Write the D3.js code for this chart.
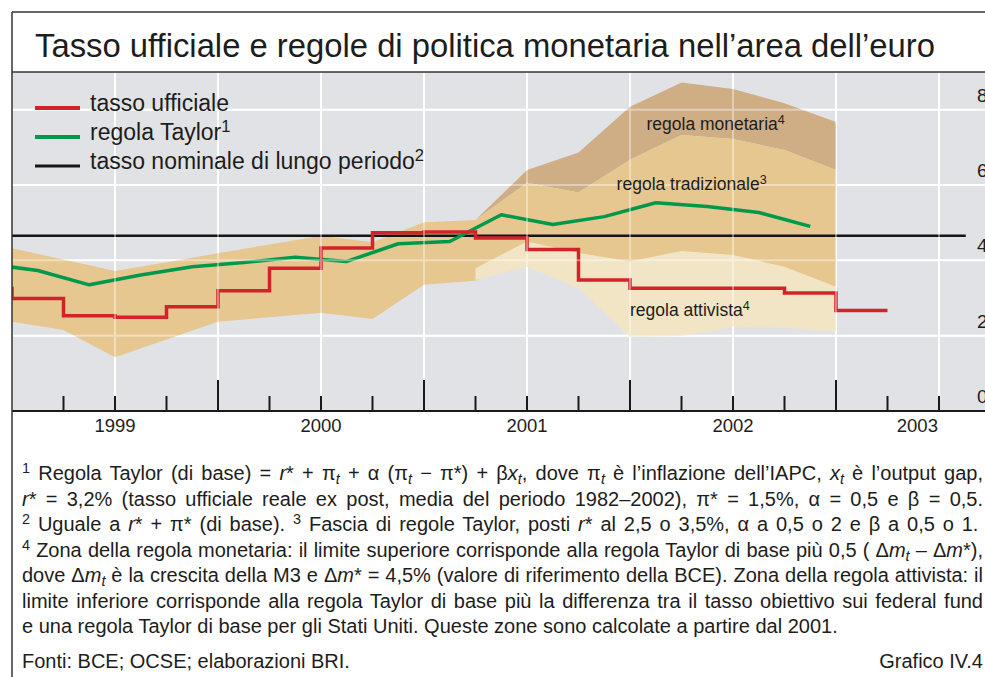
<!DOCTYPE html>
<html>
<head>
<meta charset="utf-8">
<script src="https://cdn.jsdelivr.net/npm/d3@7"></script>
<style>
body { margin: 0; background: #fff; }
svg { display: block; font-family: "Liberation Sans", Arial, sans-serif; }
</style>
</head>
<body>
<div id="chart"></div>
<script>
// quarter boundaries used by the shaded zones
const bandDates = [1999, 1999.25, 1999.5, 1999.75, 2000, 2000.25, 2000.5, 2000.75, 2001,
                   2001.25, 2001.5, 2001.75, 2002, 2002.25, 2002.5, 2002.75, 2003];
const tradUpper = [4.32, 4.02, 3.72, 3.95, 4.19, 4.42, 4.65, 4.48, 5.01,
                   5.07, 6.06, 5.80, 6.67, 7.33, 7.22, 6.93, 6.40];
const tradLower = [2.37, 2.15, 1.43, 1.90, 2.37, 2.49, 2.61, 2.44, 3.35,
                   3.46, 4.00, 3.50, 2.80, 3.00, 3.10, 2.90, 2.60];

// zones computed from 2001
const zoneDates = [2001.25, 2001.5, 2001.75, 2002, 2002.25, 2002.5, 2002.75, 2003];
const monUpper = [5.07, 6.40, 6.86, 8.08, 8.72, 8.55, 8.17, 7.67];
const actUpper = [3.79, 4.50, 4.20, 3.97, 4.25, 4.14, 3.83, 3.30];
const actLower = [3.48, 3.83, 3.26, 1.97, 1.99, 2.24, 2.21, 2.11];

// tasso ufficiale, quarterly averages (value drawn up to the quarter end)
const rateDates = [1999, 1999.25, 1999.5, 1999.75, 2000, 2000.25, 2000.5, 2000.75, 2001,
                   2001.25, 2001.5, 2001.75, 2002, 2002.25, 2002.5, 2002.75, 2003, 2003.25];
const rateValues = [3.30, 2.99, 2.53, 2.49, 2.77, 3.19, 3.79, 4.33, 4.73,
                    4.75, 4.59, 4.29, 3.48, 3.26, 3.26, 3.26, 3.13, 2.67];

// regola Taylor at quarter midpoints
const taylorDates = [1998.875, 1999.125, 1999.375, 1999.625, 1999.875, 2000.125, 2000.375, 2000.625, 2000.875,
                     2001.125, 2001.375, 2001.625, 2001.875, 2002.125, 2002.375, 2002.625, 2002.875];
const taylorValues = [3.91, 3.73, 3.35, 3.61, 3.83, 3.94, 4.08, 3.97, 4.44,
                      4.50, 5.21, 4.95, 5.16, 5.53, 5.43, 5.27, 4.90];

// tasso nominale di lungo periodo
const longDates = [1999, 2003.63];
const longValues = [4.65, 4.65];

const yTicks = [0, 2, 4, 6, 8];
const gridYears = [1999.5, 2000, 2000.5, 2001, 2001.5, 2002, 2002.5, 2003, 2003.5];
const quarterTicks = [1999.25, 1999.5, 1999.75, 2000, 2000.25, 2000.5, 2000.75, 2001, 2001.25,
                      2001.5, 2001.75, 2002, 2002.25, 2002.5, 2002.75, 2003, 2003.25, 2003.5];
const yearLabels = [1999, 2000, 2001, 2002, 2003];
const axisEnd = 2003.79;

const titleText = "Tasso ufficiale e regole di politica monetaria nell’area dell’euro";
const legendItems = [
    {parts: ["tasso ufficiale"], color: "#d2232a", width: 4},
    {parts: ["regola Taylor", ["1", "sup"]], color: "#00994c", width: 4},
    {parts: ["tasso nominale di lungo periodo", ["2", "sup"]], color: "#151515", width: 3}
];

const footLines = [
    [["1", "sup"], " Regola Taylor (di base) = ", ["r", "it"], "* + π", ["t", "itsub"], " + α (π", ["t", "itsub"],
     " − π*) + β", ["x", "it"], ["t", "itsub"], ", dove π", ["t", "itsub"], " è l’inflazione dell’IAPC, ",
     ["x", "it"], ["t", "itsub"], " è l’output gap,"],
    [["r", "it"], "* = 3,2% (tasso ufficiale reale ex post, media del periodo 1982–2002), π* = 1,5%, α = 0,5 e β = 0,5."],
    [["2", "sup"], " Uguale a ", ["r", "it"], "* + π* (di base).   ", ["3", "sup"], " Fascia di regole Taylor, posti ",
     ["r", "it"], "* al 2,5 o 3,5%, α a 0,5 o 2 e β a 0,5 o 1."],
    [["4", "sup"], " Zona della regola monetaria: il limite superiore corrisponde alla regola Taylor di base più 0,5 ( Δ",
     ["m", "it"], ["t", "itsub"], " – Δ", ["m", "it"], "*),"],
    ["dove Δ", ["m", "it"], ["t", "itsub"], " è la crescita della M3 e Δ", ["m", "it"],
     "* = 4,5% (valore di riferimento della BCE). Zona della regola attivista: il"],
    ["limite inferiore corrisponde alla regola Taylor di base più la differenza tra il tasso obiettivo sui federal fund"],
    ["e una regola Taylor di base per gli Stati Uniti. Queste zone sono calcolate a partire dal 2001."]
];

const width = 985;
const height = 677;
const plotLeft = 12;
const plotTop = 72;
const plotBottom = 411;

const svg = d3.select("#chart").append("svg")
    .attr("width", width)
    .attr("height", height);

svg.append("rect").attr("width", width).attr("height", height).attr("fill", "#fff");

const x = d3.scaleLinear().domain([1999, 2003]).range([plotLeft, 836]);
const y = d3.scaleLinear().domain([0, 9]).range([plotBottom, plotTop]);

svg.append("defs").append("clipPath").attr("id", "plot-clip")
    .append("rect")
    .attr("x", plotLeft).attr("y", plotTop)
    .attr("width", width - plotLeft).attr("height", plotBottom - plotTop);

svg.append("rect")
    .attr("x", plotLeft).attr("y", plotTop)
    .attr("width", width - plotLeft).attr("height", plotBottom - plotTop)
    .attr("fill", "#e1e2e6");

const drawGrid = (opacity) =>
{
    const g = svg.append("g").attr("stroke", "#fff").attr("stroke-width", 2).attr("opacity", opacity);
    g.selectAll("line.h").data(yTicks.filter(d => d > 0)).enter().append("line")
        .attr("x1", plotLeft).attr("x2", width)
        .attr("y1", d => y(d)).attr("y2", d => y(d));
    g.selectAll("line.v").data(gridYears).enter().append("line")
        .attr("x1", d => x(d)).attr("x2", d => x(d))
        .attr("y1", plotTop).attr("y2", plotBottom);
};

drawGrid(1);

const plot = svg.append("g").attr("clip-path", "url(#plot-clip)");

const band = (dates, hi, lo) => d3.area()
    .x((d, i) => x(dates[i]))
    .y0((d, i) => y(lo[i]))
    .y1((d, i) => y(hi[i]))(dates);

// regola monetaria sits above the traditional zone
plot.append("path")
    .attr("d", band(zoneDates, monUpper, tradUpper.slice(9)))
    .attr("fill", "#cfae86");

plot.append("path")
    .attr("d", band(bandDates, tradUpper, tradLower))
    .attr("fill", "#e6c78f");

plot.append("path")
    .attr("d", band(zoneDates, actUpper, actLower))
    .attr("fill", "#f2e5c5");

drawGrid(0.4);

const lineGen = (dates, curve) => d3.line()
    .x((d, i) => x(dates[i]))
    .y(d => y(d))
    .curve(curve);

plot.append("path")
    .attr("d", lineGen(longDates, d3.curveLinear)(longValues))
    .attr("fill", "none").attr("stroke", "#151515").attr("stroke-width", 2.5);

plot.append("path")
    .attr("d", lineGen(taylorDates, d3.curveLinear)(taylorValues))
    .attr("fill", "none").attr("stroke", "#00994c").attr("stroke-width", 3.5)
    .attr("stroke-linejoin", "round");

plot.append("path")
    .attr("d", lineGen(rateDates, d3.curveStepBefore)(rateValues))
    .attr("fill", "none").attr("stroke", "#d2232a").attr("stroke-width", 3.5);

// text with italic / sub / superscript pieces
const addRich = (parent, px, py, parts, size, subShift, supShift) =>
{
    const t = parent.append("text").attr("x", px).attr("y", py)
        .attr("font-size", size).attr("fill", "#1d1d1b");
    let shift = 0;
    parts.forEach(p =>
    {
        const str = typeof p === "string" ? p : p[0];
        const style = typeof p === "string" ? "" : p[1];
        const target = style.includes("sub") ? subShift : (style.includes("sup") ? supShift : 0);
        const ts = t.append("tspan").text(str).attr("dy", target - shift);
        shift = target;
        if (style.includes("it")) ts.attr("font-style", "italic");
        if (style.includes("sub") || style.includes("sup")) ts.attr("font-size", size * 0.72);
    });
    return t;
};

// zone labels
addRich(svg, x(2002.08), y(7.46), ["regola monetaria", ["4", "sup"]], 17.5, 0, -6);
addRich(svg, x(2001.935), y(5.86), ["regola tradizionale", ["3", "sup"]], 17.5, 0, -6);
addRich(svg, x(2002.0), y(2.51), ["regola attivista", ["4", "sup"]], 17.5, 0, -6);

// x axis
svg.append("line")
    .attr("x1", plotLeft).attr("x2", width)
    .attr("y1", plotBottom).attr("y2", plotBottom)
    .attr("stroke", "#1a1a1a").attr("stroke-width", 2);

svg.selectAll("line.tick").data(quarterTicks).enter().append("line")
    .attr("x1", d => x(d)).attr("x2", d => x(d))
    .attr("y1", plotBottom)
    .attr("y2", d => Number.isInteger(d) ? plotBottom - 31 : plotBottom - 15)
    .attr("stroke", "#1a1a1a").attr("stroke-width", 2);

svg.selectAll("text.year").data(yearLabels).enter().append("text")
    .attr("x", d => x((Math.max(d, 1999) + Math.min(d + 1, axisEnd)) / 2))
    .attr("y", 432)
    .attr("text-anchor", "middle")
    .attr("font-size", 18.5)
    .attr("fill", "#1d1d1b")
    .text(d => d);

// right-hand value labels (cut by the page edge, as in the print)
svg.selectAll("text.ylab").data(yTicks).enter().append("text")
    .attr("x", 977)
    .attr("y", d => y(d) - 8)
    .attr("font-size", 19)
    .attr("fill", "#1d1d1b")
    .text(d => d);

// legend
legendItems.forEach((item, i) =>
{
    const ly = 108 + i * 29;
    svg.append("line")
        .attr("x1", 35).attr("x2", 80)
        .attr("y1", ly).attr("y2", ly)
        .attr("stroke", item.color).attr("stroke-width", item.width);
    addRich(svg, 90, ly + 3, item.parts, 23, 0, -8);
});

// title block and frame
svg.append("text")
    .attr("x", 35).attr("y", 57)
    .attr("font-size", 33)
    .attr("fill", "#1d1d1b")
    .attr("textLength", 900)
    .attr("lengthAdjust", "spacingAndGlyphs")
    .text(titleText);

svg.append("line").attr("x1", plotLeft).attr("x2", width).attr("y1", 12).attr("y2", 12)
    .attr("stroke", "#333").attr("stroke-width", 1.5);
svg.append("line").attr("x1", plotLeft).attr("x2", width).attr("y1", plotTop).attr("y2", plotTop)
    .attr("stroke", "#333").attr("stroke-width", 1.5);
svg.append("line").attr("x1", plotLeft).attr("x2", plotLeft).attr("y1", 12).attr("y2", height)
    .attr("stroke", "#333").attr("stroke-width", 1.5);

// footnotes, justified like the printed page
const footSize = 20;
footLines.forEach((parts, i) =>
{
    const t = addRich(svg, 22, 480 + i * 25.5, parts, footSize, 4, -7);
    if (i < footLines.length - 1)
    {
        const len = t.node().getComputedTextLength();
        const spaces = (t.text().match(/ /g) || []).length;
        if (spaces > 0) t.attr("word-spacing", (961 - len) / spaces);
    }
});

svg.append("text").attr("x", 22).attr("y", 668)
    .attr("font-size", footSize).attr("fill", "#1d1d1b")
    .text("Fonti: BCE; OCSE; elaborazioni BRI.");
svg.append("text").attr("x", 983).attr("y", 668)
    .attr("font-size", footSize).attr("fill", "#1d1d1b")
    .attr("text-anchor", "end")
    .text("Grafico IV.4");
</script>
</body>
</html>
